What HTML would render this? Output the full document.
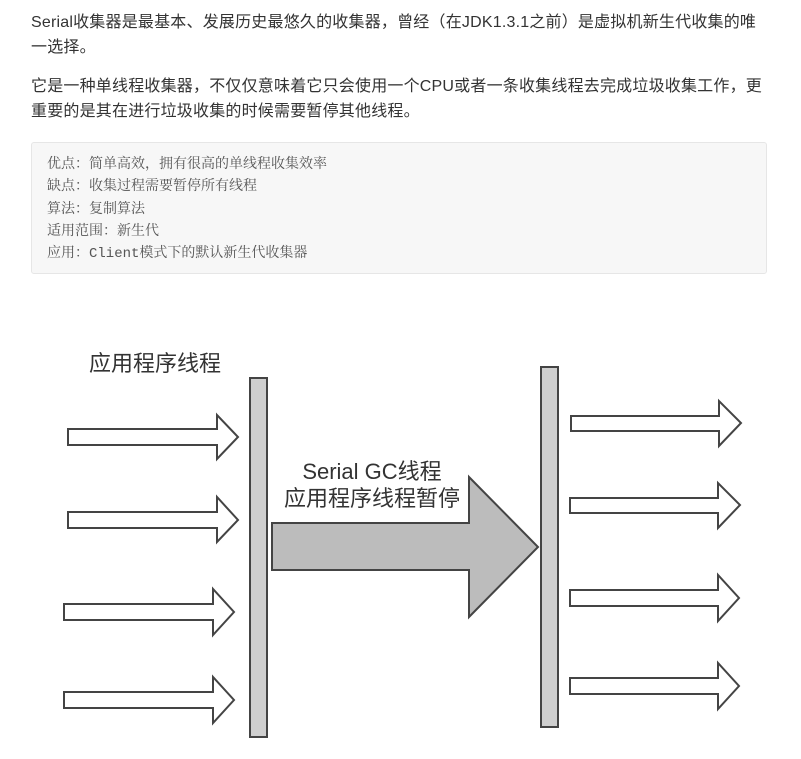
<!DOCTYPE html>
<html><head><meta charset="utf-8"><style>
body{margin:0;width:801px;height:759px;background:#fff;position:relative;overflow:hidden;font-family:"Liberation Sans","Noto Sans CJK SC",sans-serif;}
.p{position:absolute;left:31px;font-size:16px;color:#333;line-height:24.5px;white-space:nowrap;letter-spacing:0.2px;}
.box{position:absolute;left:31px;top:142px;width:734px;height:130px;background:#f7f7f7;border:1px solid #e6e6e6;border-radius:3px;}
.l{position:absolute;left:47px;font-family:"Noto Serif CJK SC",serif;font-size:14px;color:#555;line-height:16px;}
.mono{font-family:"Liberation Mono",monospace;}
</style></head><body>
<div class="p" style="top:11px">Serial收集器是最基本、发展历史最悠久的收集器，曾经（在JDK1.3.1之前）是虚拟机新生代收集的唯<br>一选择。</div>
<div class="p" style="top:75px">它是一种单线程收集器，不仅仅意味着它只会使用一个CPU或者一条收集线程去完成垃圾收集工作，更<br>重要的是其在进行垃圾收集的时候需要暂停其他线程。</div>
<div class="box"></div>
<div class="l" style="top:155px">优点：简单高效，拥有很高的单线程收集效率</div>
<div class="l" style="top:177px">缺点：收集过程需要暂停所有线程</div>
<div class="l" style="top:200px">算法：复制算法</div>
<div class="l" style="top:222px">适用范围：新生代</div>
<div class="l" style="top:244px">应用：<span class="mono">Client</span>模式下的默认新生代收集器</div>
<svg width="801" height="759" style="position:absolute;left:0;top:0" xmlns="http://www.w3.org/2000/svg">
<g stroke="#444" stroke-width="2" fill="#fff">
<polygon points="68,429 217,429 217,415 238,437 217,459 217,445 68,445"/>
<polygon points="68,512 217,512 217,497 238,520 217,542 217,528 68,528"/>
<polygon points="64,604 213,604 213,589 234,612 213,635 213,620 64,620"/>
<polygon points="64,692 213,692 213,677 234,700 213,723 213,708 64,708"/>
<polygon points="571,416 719,416 719,401 741,423 719,446 719,431 571,431"/>
<polygon points="570,498 718,498 718,483 740,505 718,528 718,513 570,513"/>
<polygon points="570,590 718,590 718,575 739,598 718,621 718,606 570,606"/>
<polygon points="570,678 718,678 718,663 739,686 718,709 718,694 570,694"/>
<polygon fill="#bcbcbc" points="272,523 469,523 469,477 538,547 469,617 469,570 272,570"/>
<rect x="250" y="378" width="17" height="359" fill="#cfcfcf"/>
<rect x="541" y="367" width="17" height="360" fill="#cfcfcf"/>
</g>
<g font-family="Liberation Sans,Noto Sans CJK SC,sans-serif" font-size="22" fill="#333">
<text x="89" y="371">应用程序线程</text>
<text x="372" y="479" text-anchor="middle">Serial GC线程</text>
<text x="372" y="506" text-anchor="middle">应用程序线程暂停</text>
</g>
</svg>
</body></html>
